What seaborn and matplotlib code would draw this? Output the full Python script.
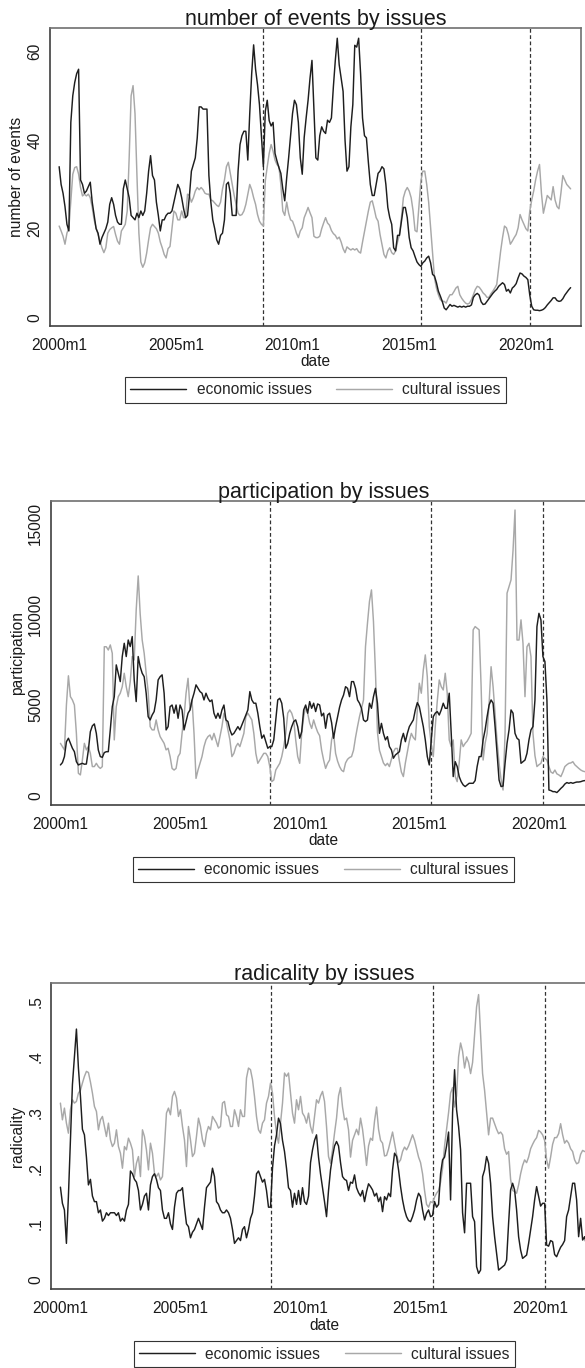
import numpy as np
import pandas as pd
import seaborn as sns
import matplotlib.pyplot as plt

# --- data: monthly series 2000m1 - 2021m12 ---
dates = pd.period_range("2000-01", "2021-12", freq="M")
tm = np.asarray((dates.year - 2000) * 12 + dates.month - 1)   # Stata %tm counted from 2000m1

issue_names = ["economic issues", "cultural issues"]
tick_dates = ["2000-01", "2005-01", "2010-01", "2015-01", "2020-01"]
event_dates = ["2008-10", "2015-07", "2020-03"]

events_econ = [
    34, 30, 28, 25, 21, 19.5, 44, 50, 53, 55, 56, 31,              # 2000
    30, 28, 28.5, 29.5, 30.5, 26, 23, 20, 19, 16.5, 18, 19,        # 2001
    20, 21.5, 25.5, 27, 25.5, 23, 21.5, 21, 21, 29, 31, 29,        # 2002
    27, 23, 22.5, 22, 23.5, 22.5, 24, 23, 24, 28, 33, 36.5,        # 2003
    32, 31, 26, 23, 19.5, 22, 22, 23, 23.5, 23.5, 24, 26,          # 2004
    28, 30, 29, 27, 24.5, 22.5, 23, 27.5, 33, 34.5, 36, 40.5,      # 2005
    47.5, 47.5, 47, 47, 47, 32, 26, 22, 20, 17.5, 16.5, 18.5,      # 2006
    19, 22, 30, 30.5, 28, 23, 23, 23, 33, 39, 41, 42,              # 2007
    42, 35.5, 46, 55, 61.5, 56, 52.5, 48, 41, 34, 46.5, 49,        # 2008
    44.4, 43.2, 44, 37, 35.3, 33.8, 32.5, 29, 26.3, 31.5, 36, 41,  # 2009
    46, 49, 48, 44, 36, 32.3, 40.6, 45, 49, 54, 58, 47,            # 2010
    36, 35.5, 41, 43, 42, 41.5, 44.5, 44, 45, 52, 58, 63,          # 2011
    57, 54, 51, 40, 33, 34, 43, 48, 61.4, 61, 63, 55,              # 2012
    45, 41, 40.5, 35, 30, 27.5, 27.5, 30, 32.5, 33, 34, 33.5,      # 2013
    30, 24.8, 22.5, 21, 15.7, 15, 18.5, 18.5, 21.7, 24.8, 24.8, 22.5,  # 2014
    18, 15.7, 15, 13.7, 12.5, 11.9, 11.5, 12.3, 12.7, 13.4, 13.8, 12.3,  # 2015
    9.7, 9.3, 7.8, 5.9, 4.8, 3.6, 2.1, 1.7, 2.3, 2.9, 2.5, 2.7,    # 2016
    2.5, 2.3, 2.5, 2.3, 2.5, 2.3, 2.5, 2.5, 2.8, 4.5, 5.1, 5.4,    # 2017
    5, 3.5, 2.9, 3, 3.6, 4.2, 4.8, 5.4, 5.9, 6.3, 7, 7.4,          # 2018
    7.8, 7.4, 5.9, 6.3, 5.5, 6.6, 7, 7.6, 8.9, 10, 9.8, 9.3,       # 2019
    9, 8.5, 5, 2.5, 1.7, 1.6, 1.6, 1.5, 1.6, 1.8, 2.2, 2.8,        # 2020
    3.3, 3.8, 4.4, 4.4, 3.8, 3.6, 3.7, 4.2, 5, 5.6, 6.2, 6.7,      # 2021
]
events_cult = [
    20.6, 19.5, 18.3, 16.5, 19, 20.2, 26.3, 32.3, 33.8, 34, 32.3, 29.3,
    27.4, 27.8, 27.4, 27.8, 27, 24.8, 22, 20.2, 18.7, 17.2, 15.7, 14.6,
    15.7, 19, 19.8, 20.2, 20.5, 18.7, 17.2, 16.5, 19.5, 20.2, 21, 24,
    36, 50, 52.3, 46, 32, 19, 12.5, 11.3, 12.3, 14.5, 17.5, 20.2,
    21, 20.5, 20, 19, 17, 15.7, 14.2, 13.4, 15.5, 16, 20, 24,
    23.5, 22, 22, 24, 22.5, 22.5, 27.8, 27.5, 26, 27, 28.5, 29.3,
    28.8, 29.3, 28.8, 28, 27.8, 27.8, 26.5, 26.3, 25.8, 25.3, 25, 26,
    29, 31, 34, 35, 32.5, 30, 27.5, 25.5, 23.5, 23, 23.2, 24,
    25.5, 27.8, 30, 28.8, 27, 25.5, 23.2, 21.7, 21, 20.6, 30.8, 34,
    37, 39, 37.5, 35.5, 34.5, 34, 30, 24, 23, 26, 23.5, 22,
    21.7, 20.5, 19, 18, 19.5, 20.2, 22.5, 23.6, 24.8, 23.6, 22.5, 18.3,
    18, 18, 18.3, 20, 21.3, 22.5, 21.3, 20.8, 19.6, 18.9, 18.5, 17.7,
    18.1, 17, 15.5, 14.6, 15.9, 15.5, 15.2, 15.5, 15.2, 15.5, 14.8, 14.5,
    17, 19.3, 21.5, 24, 26, 26.3, 24.5, 22.5, 21.7, 18.7, 16.5, 14.2,
    13.4, 15, 15.7, 14.6, 14.2, 15, 17, 18.7, 22.5, 27, 28.5, 29.3,
    28.5, 27, 24, 19.6, 19.3, 25, 30.8, 33, 33, 30, 26, 20.2,
    14.2, 8.9, 6.6, 5.1, 4, 3.6, 3.6, 3.2, 4.3, 5.1, 5.1, 5.8,
    6.6, 7, 5.1, 4.3, 3.7, 3.2, 3, 3.2, 4, 5.1, 6.3, 7,
    6.8, 6.2, 5.5, 5.1, 4.5, 4.5, 5.3, 5.9, 6.6, 7.4, 11.2, 14.9,
    18, 20.6, 20.2, 18.7, 16.5, 17.2, 18, 18.7, 20.2, 23.2, 22, 21,
    20, 19.5, 24, 26.5, 28.5, 31, 33, 34.5, 28, 23.5, 25.5, 27.5,
    27, 26.5, 29.5, 26.5, 25, 24.5, 28, 32, 31, 30, 29.5, 29,
]

part_econ = [
    1690, 1820, 2150, 2970, 3160, 2880, 2610, 2420, 1870, 1690, 1740, 1780,
    1730, 1740, 2500, 3520, 3840, 3950, 3430, 2510, 2150, 2110, 2370, 2420,
    2420, 3620, 4900, 5450, 7200, 6740, 6280, 7660, 8390, 7660, 8570, 8210,
    8760, 6370, 5180, 7660, 7100, 6740, 6550, 5640, 4350, 4170, 4440, 4630,
    5270, 6370, 6550, 6650, 5640, 3620, 3800, 4900, 4990, 4540, 4990, 4260,
    4990, 4720, 3620, 4080, 4540, 4720, 5270, 5640, 6100, 5910, 5730, 5640,
    5270, 5640, 5360, 5180, 5270, 4540, 4260, 4540, 4260, 4720, 4990, 4170,
    4080, 3620, 3340, 3430, 3620, 3800, 3620, 3890, 4170, 4440, 4720, 5730,
    5270, 5090, 5090, 4540, 3800, 3160, 3340, 2970, 2610, 2700, 2700, 3070,
    4170, 5270, 5360, 5090, 4260, 2610, 2880, 3430, 3800, 4080, 4170, 3800,
    3160, 3520, 4720, 4990, 4540, 5180, 4810, 5090, 4630, 5050, 4990, 4390,
    4540, 3710, 4440, 4540, 4020, 3160, 3800, 4350, 4870, 5270, 5540, 6000,
    5910, 5450, 6280, 6280, 5910, 5270, 5090, 4810, 4170, 4080, 4170, 5090,
    4810, 5450, 5910, 5090, 3430, 3980, 3430, 3070, 3250, 2700, 2520, 2060,
    2240, 2330, 2420, 3070, 3430, 2970, 3430, 3800, 3980, 4170, 4720, 5120,
    4900, 4350, 3800, 3070, 2150, 1690, 3070, 4350, 4540, 4630, 4440, 4720,
    5090, 4810, 4810, 5640, 3430, 1050, 1870, 1600, 1050, 770, 590, 500,
    590, 680, 680, 680, 830, 1600, 2150, 2150, 3070, 3620, 4350, 4990,
    5270, 5090, 3800, 2330, 860, 500, 530, 1780, 2880, 3620, 4720, 4540,
    3430, 3160, 3070, 1780, 1870, 1960, 2330, 3070, 3620, 3800, 5270, 9310,
    10040, 9680, 7660, 7380, 5270, 310, 280, 220, 220, 170, 280, 400,
    500, 640, 720, 680, 720, 680, 720, 750, 750, 770, 810, 830,
]
part_cult = [
    2880, 2700, 2520, 5000, 6600, 5450, 5270, 4990, 3430, 1230, 1140, 1960,
    2880, 2520, 2700, 2330, 1600, 1600, 1780, 1600, 1500, 1600, 8200, 8200,
    8020, 8300, 7840, 3070, 4900, 5450, 5640, 6000, 6740, 6000, 5450, 6280,
    7660, 7470, 10230, 12100, 10000, 8570, 7840, 6740, 5730, 3800, 3620, 3620,
    4170, 3620, 3250, 3070, 2880, 2520, 2610, 2150, 1500, 1410, 1500, 2150,
    2330, 3430, 4350, 5640, 6460, 4720, 5270, 3430, 950, 1410, 1780, 2150,
    2700, 3070, 3250, 3340, 3070, 3430, 3070, 2700, 3250, 3800, 4540, 4170,
    3620, 3070, 2150, 2330, 2700, 2880, 2700, 3070, 3430, 4350, 4540, 4350,
    4170, 3430, 2330, 1780, 1960, 2150, 2330, 2330, 2150, 1600, 770, 860,
    1410, 1600, 1780, 2150, 2700, 3430, 4540, 4720, 4540, 4170, 3070, 2150,
    1780, 3430, 4350, 4900, 4540, 4000, 3700, 4170, 3800, 3500, 3300, 2500,
    1960, 1500, 1780, 1960, 3070, 3430, 2330, 1900, 1600, 1400, 1320, 1800,
    2000, 2100, 2150, 2500, 3200, 3800, 4350, 4800, 5270, 8200, 9500, 10700,
    11330, 9600, 6800, 3500, 2500, 2150, 1800, 1650, 1780, 1600, 2000, 2400,
    2600, 2600, 1900, 1300, 1050, 1800, 2400, 3000, 3430, 3200, 3070, 4720,
    6190, 5640, 6920, 7750, 6550, 3800, 2800, 2150, 3800, 5200, 6370, 6000,
    5820, 6740, 5640, 3070, 2700, 3070, 1050, 770, 1800, 3070, 2700, 2880,
    3000, 3200, 3430, 9130, 9310, 9220, 9130, 6000, 1960, 2880, 3430, 5090,
    7100, 6000, 4500, 3000, 1780, 900, 310, 3430, 11150, 11510, 11880, 13500,
    15730, 8570, 8570, 9680, 8390, 5450, 8200, 8390, 7660, 3430, 2200, 1600,
    1700, 1780, 2150, 2050, 1960, 1600, 1300, 1230, 1410, 1200, 1140, 1050,
    1300, 1600, 1700, 1780, 1800, 1870, 1700, 1600, 1500, 1410, 1350, 1320,
]

rad_econ = [
    0.166, 0.137, 0.125, 0.065, 0.15, 0.25, 0.35, 0.40, 0.45, 0.38, 0.33, 0.27,
    0.26, 0.22, 0.17, 0.18, 0.15, 0.14, 0.14, 0.12, 0.125, 0.105, 0.11, 0.12,
    0.115, 0.12, 0.12, 0.12, 0.115, 0.12, 0.105, 0.11, 0.105, 0.125, 0.135, 0.195,
    0.19, 0.18, 0.175, 0.16, 0.125, 0.135, 0.15, 0.155, 0.125, 0.17, 0.185, 0.19,
    0.18, 0.165, 0.16, 0.125, 0.11, 0.11, 0.12, 0.10, 0.09, 0.13, 0.155, 0.16,
    0.16, 0.165, 0.13, 0.10, 0.095, 0.075, 0.085, 0.09, 0.10, 0.11, 0.10, 0.09,
    0.13, 0.165, 0.17, 0.175, 0.20, 0.185, 0.14, 0.135, 0.125, 0.12, 0.12, 0.125,
    0.12, 0.11, 0.09, 0.065, 0.07, 0.075, 0.07, 0.09, 0.095, 0.075, 0.09, 0.11,
    0.12, 0.15, 0.19, 0.195, 0.185, 0.175, 0.18, 0.16, 0.13, 0.13, 0.2, 0.24,
    0.26, 0.29, 0.28, 0.25, 0.23, 0.2, 0.165, 0.16, 0.13, 0.155, 0.135, 0.16,
    0.135, 0.165, 0.14, 0.135, 0.15, 0.21, 0.233, 0.25, 0.26, 0.22, 0.19, 0.165,
    0.14, 0.113, 0.16, 0.197, 0.221, 0.24, 0.248, 0.24, 0.21, 0.185, 0.18, 0.178,
    0.16, 0.175, 0.173, 0.188, 0.165, 0.156, 0.15, 0.16, 0.14, 0.158, 0.172, 0.167,
    0.161, 0.15, 0.155, 0.14, 0.148, 0.122, 0.149, 0.143, 0.155, 0.149, 0.197, 0.227,
    0.221, 0.197, 0.167, 0.143, 0.125, 0.113, 0.106, 0.104, 0.113, 0.125, 0.143, 0.155,
    0.149, 0.125, 0.107, 0.119, 0.125, 0.113, 0.115, 0.14, 0.13, 0.135, 0.19, 0.215,
    0.22, 0.24, 0.265, 0.143, 0.3, 0.377, 0.305, 0.275, 0.233, 0.12, 0.084, 0.173,
    0.173, 0.173, 0.113, 0.104, 0.023, 0.011, 0.017, 0.185, 0.197, 0.221, 0.209, 0.173,
    0.113, 0.077, 0.047, 0.017, 0.02, 0.023, 0.026, 0.035, 0.101, 0.161, 0.173, 0.161,
    0.125, 0.077, 0.053, 0.038, 0.041, 0.044, 0.065, 0.089, 0.113, 0.143, 0.167, 0.149,
    0.132, 0.137, 0.137, 0.062, 0.06, 0.07, 0.068, 0.045, 0.041, 0.05, 0.058, 0.063,
    0.07, 0.113, 0.125, 0.149, 0.173, 0.173, 0.143, 0.077, 0.11, 0.071, 0.077, 0.06,
]
rad_cult = [
    0.317, 0.287, 0.308, 0.281, 0.263, 0.305, 0.323, 0.317, 0.32, 0.335, 0.34, 0.353,
    0.365, 0.374, 0.372, 0.355, 0.335, 0.311, 0.302, 0.269, 0.287, 0.293, 0.275, 0.257,
    0.281, 0.251, 0.239, 0.245, 0.269, 0.239, 0.227, 0.2, 0.239, 0.233, 0.254, 0.245,
    0.233, 0.185, 0.209, 0.221, 0.185, 0.269, 0.257, 0.233, 0.197, 0.245, 0.227, 0.191,
    0.185, 0.191, 0.179, 0.185, 0.239, 0.299, 0.308, 0.296, 0.329, 0.338, 0.326, 0.293,
    0.305, 0.275, 0.251, 0.203, 0.275, 0.251, 0.221, 0.227, 0.257, 0.29, 0.275, 0.251,
    0.239, 0.263, 0.275, 0.269, 0.293, 0.287, 0.281, 0.272, 0.275, 0.317, 0.32, 0.296,
    0.293, 0.275, 0.275, 0.305, 0.293, 0.275, 0.305, 0.293, 0.293, 0.362, 0.38, 0.377,
    0.359, 0.329, 0.293, 0.269, 0.263, 0.281, 0.287, 0.317, 0.329, 0.353, 0.335, 0.293,
    0.263, 0.245, 0.281, 0.317, 0.371, 0.365, 0.371, 0.335, 0.299, 0.281, 0.323, 0.305,
    0.329, 0.299, 0.293, 0.281, 0.299, 0.275, 0.263, 0.293, 0.323, 0.317, 0.33, 0.338,
    0.32, 0.275, 0.221, 0.209, 0.233, 0.263, 0.29, 0.33, 0.345, 0.31, 0.287, 0.29,
    0.269, 0.22, 0.25, 0.26, 0.27, 0.26, 0.29, 0.27, 0.24, 0.205, 0.24, 0.254,
    0.25, 0.285, 0.31, 0.27, 0.25, 0.245, 0.222, 0.223, 0.235, 0.25, 0.265, 0.245,
    0.225, 0.21, 0.215, 0.23, 0.238, 0.233, 0.24, 0.25, 0.26, 0.25, 0.235, 0.22,
    0.21, 0.19, 0.16, 0.135, 0.13, 0.14, 0.138, 0.148, 0.155, 0.16, 0.175, 0.2,
    0.24, 0.27, 0.3, 0.335, 0.345, 0.31, 0.33, 0.4, 0.425, 0.41, 0.38, 0.4,
    0.39, 0.37, 0.39, 0.44, 0.49, 0.512, 0.44, 0.37, 0.34, 0.3, 0.26, 0.29,
    0.29, 0.28, 0.27, 0.262, 0.265, 0.26, 0.235, 0.225, 0.23, 0.18, 0.16, 0.158,
    0.155, 0.17, 0.19, 0.205, 0.215, 0.21, 0.22, 0.235, 0.243, 0.25, 0.255, 0.268,
    0.265, 0.26, 0.25, 0.215, 0.2, 0.22, 0.243, 0.255, 0.255, 0.262, 0.28, 0.26,
    0.245, 0.25, 0.245, 0.235, 0.23, 0.215, 0.208, 0.21, 0.225, 0.232, 0.23, 0.23,
]


def to_tm(d):
    p = pd.Period(d, freq="M")
    return (p.year - 2000) * 12 + p.month - 1


# --- styling ---
sns.set_style("white")
plt.rcParams["font.family"] = ["Liberation Sans", "DejaVu Sans"]
plt.rcParams["font.size"] = 11.2
ECON_C = "#1e1e1e"
CULT_C = "#a8a8a8"

fig = plt.figure(figsize=(5.85, 13.68), dpi=100)

# axes rectangles in figure fractions (panels 2 and 3 run past the right edge, as in the source)
panels = [
    dict(rect=[0.0855, 0.7617, 0.9082, 0.2178], title="number of events by issues",
         ylabel="number of events", econ=events_econ, cult=events_cult,
         yticks=[0, 20, 40, 60], ytl=["0", "20", "40", "60"], ylim=(-1.96, 65.3)),
    dict(rect=[0.0873, 0.4116, 0.9311, 0.2222], title="participation by issues",
         ylabel="participation", econ=part_econ, cult=part_cult,
         yticks=[0, 5000, 10000, 15000], ytl=["0", "5000", "10000", "15000"],
         ylim=(-512, 16228)),
    dict(rect=[0.0872, 0.0575, 0.9344, 0.2239], title="radicality by issues",
         ylabel="radicality", econ=rad_econ, cult=rad_cult,
         yticks=[0, 0.1, 0.2, 0.3, 0.4, 0.5], ytl=["0", ".1", ".2", ".3", ".4", ".5"],
         ylim=(-0.0176, 0.5327)),
]

for p in panels:
    ax = fig.add_axes(p["rect"])
    df = pd.DataFrame({
        "date": np.concatenate([tm, tm]),
        "value": np.concatenate([p["econ"], p["cult"]]),
        "issue": np.repeat(issue_names, len(tm)),
    })
    sns.lineplot(data=df, x="date", y="value", hue="issue", hue_order=issue_names,
                 palette=[ECON_C, CULT_C], linewidth=1.05, estimator=None, ax=ax)
    ax.lines[0].set_zorder(3)  # economic line on top

    for d in event_dates:
        ax.axvline(to_tm(d), color="#333333", lw=0.9, ls=(0, (3, 2)), zorder=1)

    ax.set_xlim(-4.7, 268.5)
    ax.set_ylim(*p["ylim"])
    ax.set_xticks([to_tm(d) for d in tick_dates])
    ax.set_xticklabels([d[:4] + "m1" for d in tick_dates])
    ax.set_yticks(p["yticks"])
    ax.set_yticklabels(p["ytl"])
    ax.tick_params(axis="both", direction="out", length=2.6, width=0.8,
                   color="#333333", labelsize=11.2, labelcolor="#1a1a1a")
    ax.tick_params(axis="x", pad=6)
    ax.tick_params(axis="y", pad=3, labelrotation=90)
    for lab in ax.get_yticklabels():
        lab.set_va("center")

    ax.set_xlabel("date", fontsize=11.2, color="#1a1a1a", labelpad=1)
    ax.set_ylabel(p["ylabel"], fontsize=11.2, color="#1a1a1a", labelpad=2)
    ax.set_title(p["title"], fontsize=15.5, color="#1a1a1a", pad=2)

    for side in ["left", "bottom"]:
        ax.spines[side].set_color("#404040")
        ax.spines[side].set_linewidth(1.2)
    for side in ["top", "right"]:
        ax.spines[side].set_color("#707070")
        ax.spines[side].set_linewidth(1.2)

    handles, labels = ax.get_legend_handles_labels()
    leg = ax.legend(handles, labels, ncol=2, loc="upper center",
                    bbox_to_anchor=(0.5, -0.17), borderaxespad=0, fontsize=11.2,
                    handlelength=3.6, handletextpad=0.65, columnspacing=1.6,
                    borderpad=0.35, fancybox=False, framealpha=1, edgecolor="#333333")
    leg.get_frame().set_linewidth(0.8)

fig.savefig("out.png", dpi=100)
plt.close(fig)
